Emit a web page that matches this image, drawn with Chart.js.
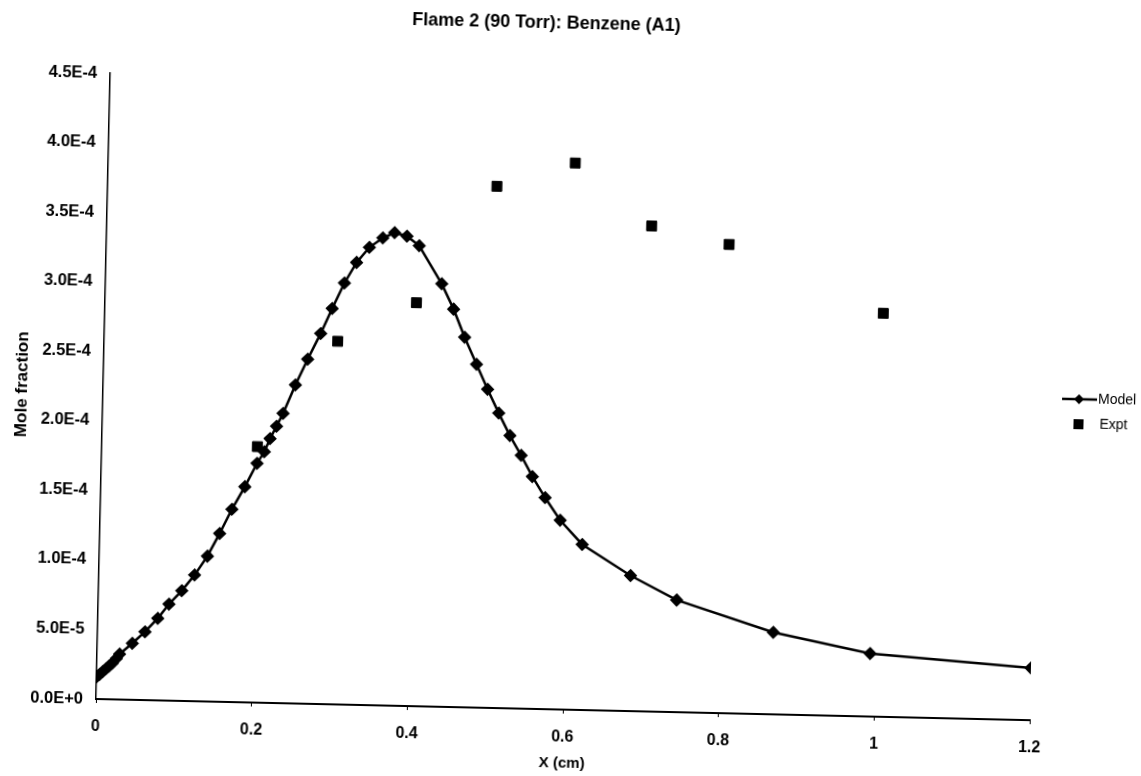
<!DOCTYPE html>
<html>
<head>
<meta charset="utf-8">
<title>Flame 2 (90 Torr): Benzene (A1)</title>
<script src="https://cdn.jsdelivr.net/npm/chart.js@4.4.1/dist/chart.umd.min.js"></script>
<style>
    html, body { margin: 0; padding: 0; background: #fff; overflow: hidden; }
    /* the scanned original sits slightly tilted, so the whole chart is turned a little */
    #wrap { width: 1141px; height: 776px; transform: rotate(1.3deg); transform-origin: 96px 699px; }
</style>
</head>
<body>
<div id="wrap"><canvas id="myChart" width="1141" height="776"></canvas></div>
<script>
const chartTitle = 'Flame 2 (90 Torr): Benzene (A1)';

// Model curve (X in cm, mole fraction)
const modelX = [0, 0.004, 0.008, 0.012, 0.016, 0.020, 0.025, 0.029, 0.045, 0.061,
    0.077, 0.091, 0.107, 0.123, 0.139, 0.154, 0.169, 0.185, 0.200, 0.209,
    0.216, 0.224, 0.232, 0.247, 0.262, 0.278, 0.292, 0.307, 0.322, 0.338,
    0.355, 0.370, 0.386, 0.402, 0.432, 0.448, 0.463, 0.479, 0.494, 0.509,
    0.524, 0.539, 0.554, 0.571, 0.591, 0.620, 0.683, 0.743, 0.868, 0.993, 1.2];
const modelY = [1.58e-5, 1.78e-5, 1.99e-5, 2.19e-5, 2.40e-5, 2.61e-5, 2.94e-5, 3.27e-5, 4.06e-5, 4.91e-5,
    5.90e-5, 6.94e-5, 7.92e-5, 9.07e-5, 1.045e-4, 1.21e-4, 1.385e-4, 1.55e-4, 1.72e-4, 1.804e-4,
    1.90e-4, 1.99e-4, 2.083e-4, 2.29e-4, 2.477e-4, 2.664e-4, 2.845e-4, 3.03e-4, 3.18e-4, 3.29e-4,
    3.36e-4, 3.40e-4, 3.377e-4, 3.31e-4, 3.04e-4, 2.86e-4, 2.66e-4, 2.467e-4, 2.29e-4, 2.12e-4,
    1.96e-4, 1.82e-4, 1.67e-4, 1.52e-4, 1.36e-4, 1.19e-4, 9.74e-5, 8.06e-5, 5.89e-5, 4.53e-5, 3.75e-5];

// Experiment
const exptX = [0.2, 0.3, 0.4, 0.5, 0.6, 0.7, 0.8, 1.0];
const exptY = [1.84e-4, 2.61e-4, 2.90e-4, 3.75e-4, 3.93e-4, 3.49e-4, 3.37e-4, 2.90e-4];

const xMax = 1.2;
const xStep = 0.2;
const yMax = 4.5e-4;
const yStep = 5e-5;

const font = '"Liberation Sans", Arial, sans-serif';

const modelPoints = modelX.map((x, i) => ({ x: x, y: modelY[i] }));
const exptPoints = exptX.map((x, i) => ({ x: x, y: exptY[i] }));

// title + legend drawn next to the plot like the original
const sidePlugin = {
    id: 'sideText',
    afterDraw(chart) {
        const ctx = chart.ctx;
        ctx.save();
        ctx.fillStyle = '#000';
        ctx.strokeStyle = '#000';
        ctx.textBaseline = 'middle';

        ctx.font = 'bold 18px ' + font;
        ctx.textAlign = 'center';
        ctx.fillText(chartTitle, 531, 13);

        // Model entry
        ctx.lineWidth = 2.5;
        ctx.beginPath();
        ctx.moveTo(1055, 377);
        ctx.lineTo(1090, 377);
        ctx.stroke();
        ctx.beginPath();
        ctx.moveTo(1072, 372);
        ctx.lineTo(1077, 377);
        ctx.lineTo(1072, 382);
        ctx.lineTo(1067, 377);
        ctx.closePath();
        ctx.fill();

        // Expt entry
        ctx.fillRect(1067, 397, 10, 10);

        ctx.font = '14px ' + font;
        ctx.textAlign = 'left';
        ctx.fillText('Model', 1091, 377);
        ctx.fillText('Expt', 1093, 402);
        ctx.restore();
    }
};

const config = {
    type: 'scatter',
    data: {
        datasets: [{
            label: 'Model',
            data: modelPoints,
            showLine: true,
            borderColor: '#000',
            backgroundColor: '#000',
            borderWidth: 2.5,
            pointStyle: 'rectRot',
            pointRadius: 5,
            pointHoverRadius: 5,
            tension: 0
        }, {
            label: 'Expt',
            data: exptPoints,
            showLine: false,
            borderColor: '#000',
            backgroundColor: '#000',
            pointStyle: 'rect',
            pointRadius: 7,
            pointHoverRadius: 7
        }]
    },
    options: {
        responsive: false,
        animation: false,
        devicePixelRatio: 1,
        layout: { padding: { left: 0, right: 111, top: 73, bottom: 7 } },
        plugins: {
            legend: { display: false },
            title: { display: false },
            tooltip: { enabled: false }
        },
        scales: {
            x: {
                type: 'linear',
                min: 0,
                max: xMax,
                border: { display: true, color: '#000', width: 2 },
                grid: { drawOnChartArea: false, drawTicks: true, tickLength: 4, color: '#000' },
                ticks: {
                    stepSize: xStep,
                    padding: 14,
                    color: '#000',
                    font: { family: font, size: 16, weight: 'bold' },
                    callback: (v) => String(+v.toFixed(1))
                },
                title: {
                    display: true,
                    text: 'X (cm)',
                    color: '#000',
                    font: { family: font, size: 15, weight: 'bold' },
                    padding: { top: 0, bottom: 7 }
                },
                afterFit: (scale) => { scale.height = 70; }
            },
            y: {
                type: 'linear',
                min: 0,
                max: yMax,
                border: { display: true, color: '#000', width: 1.5, dash: [10, 3, 2, 3] },
                grid: { drawOnChartArea: false, drawTicks: false },
                ticks: {
                    stepSize: yStep,
                    padding: 13,
                    color: '#000',
                    font: { family: font, size: 16.5, weight: 'bold' },
                    callback: (v) => v.toExponential(1).toUpperCase()
                },
                title: {
                    display: true,
                    text: 'Mole fraction',
                    color: '#000',
                    font: { family: font, size: 17, weight: 'bold' },
                    padding: { top: 5, bottom: 0 }
                },
                afterFit: (scale) => { scale.width = 96; }
            }
        }
    },
    plugins: [sidePlugin]
};

const myChart = new Chart(document.getElementById('myChart'), config);
</script>
</body>
</html>
